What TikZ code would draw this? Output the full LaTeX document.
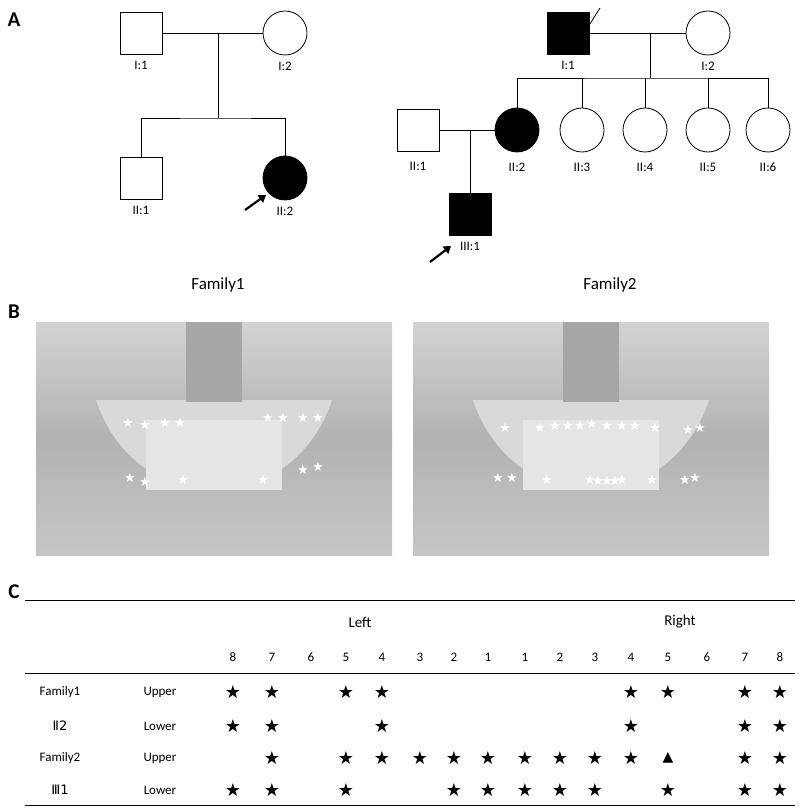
\documentclass[tikz,border=0pt]{standalone}
\usepackage{fontspec}
\setmainfont{Carlito}
\newfontfamily\symfont{DejaVu Sans}
\usetikzlibrary{arrows.meta,positioning}
\tikzset{
    male/.style={draw, minimum size=42pt, inner sep=0pt, line width=0.8pt},
    female/.style={draw, circle, minimum size=44pt, inner sep=0pt, line width=0.8pt},
    aff/.style={fill=black},
    lbl/.style={font=\fontsize{13}{13}\selectfont},
    tag/.style={font=\fontsize{21}{21}\selectfont\bfseries},
    line/.style={line width=0.8pt},
    pointer/.style={-{Triangle[length=7pt,width=9pt]}, line width=2.2pt},
    wstar/.style={text=white, font=\symfont\fontsize{13}{13}\selectfont, inner sep=0pt},
    bstar/.style={font=\symfont\fontsize{18}{18}\selectfont, inner sep=0pt},
    cell/.style={font=\fontsize{13}{13}\selectfont, inner sep=0pt}
}
\begin{document}
\begin{tikzpicture}[x=1pt,y=-1pt]
    \useasboundingbox (0,0) rectangle (800,810);
    % A: pedigrees
    \node[tag] at (14,20) {A};
    \node[male] (f1a) at (141,33) {};
    \node[female] (f1b) at (285,33) {};
    \node[male] (f1c) at (141,178) {};
    \node[female,aff] (f1d) at (285,178) {};
    \coordinate (f1m) at (218,33);
    \coordinate (f1s) at (218,118);
    \draw[line] (f1a) -- (f1b);
    \draw[line] (f1m) -- (f1s);
    \draw[line] (f1c.north) |- (f1s) -| (f1d.north);
    \node[lbl, below=3pt of f1a] {I:1};
    \node[lbl, below=3pt of f1b] {I:2};
    \node[lbl, below=3pt of f1c] {II:1};
    \node[lbl, below=3pt of f1d] {II:2};
    \coordinate (p1) at (245,210);
    \draw[pointer] (p1) -- (266,195);
    \node[font=\fontsize{17}{17}\selectfont] at (218,285) {Family1};

    \node[male,aff] (f2a) at (568,33) {};
    \node[female] (f2b) at (708,33) {};
    \draw[line] (576,46) -- (600,8);
    \node[male] (f2c) at (418,130) {};
    \node[female,aff] (f2d) at (517,130) {};
    \node[female] (f2e) at (582,130) {};
    \node[female] (f2f) at (645,130) {};
    \node[female] (f2g) at (708,130) {};
    \node[female] (f2h) at (768,130) {};
    \node[male,aff] (f2i) at (470,214) {};
    \coordinate (f2m) at (650,33);
    \coordinate (f2s) at (650,78);
    \coordinate (f2n) at (470,130);
    \draw[line] (f2a) -- (f2b);
    \draw[line] (f2m) -- (f2s);
    \draw[line] (f2d.north) |- (f2s) -| (f2h.north);
    \foreach \k in {e,f,g} \draw[line] (f2\k.north) -- ++(0,-30);
    \draw[line] (f2c) -- (f2d);
    \draw[line] (f2n) -- (f2i.north);
    \node[lbl, below=3pt of f2a] {I:1};
    \node[lbl, below=3pt of f2b] {I:2};
    \node[lbl, below=7pt of f2c] {II:1};
    \node[lbl, below=7pt of f2d] {II:2};
    \node[lbl, below=7pt of f2e] {II:3};
    \node[lbl, below=7pt of f2f] {II:4};
    \node[lbl, below=7pt of f2g] {II:5};
    \node[lbl, below=7pt of f2h] {II:6};
    \node[lbl, below=3pt of f2i] {III:1};
    \coordinate (p2) at (430,262);
    \draw[pointer] (p2) -- (451,246);
    \node[font=\fontsize{17}{17}\selectfont] at (610,285) {Family2};

    % B: radiographs
    \node[tag] at (14,312) {B};
    \foreach \x in {36,413} {
        \shade[top color=gray!35, bottom color=gray!45, middle color=gray!60] (\x,322) rectangle ++(356,233);
        \fill[gray!30] (\x+60,400) .. controls (\x+100,520) and (\x+256,520) .. (\x+296,400) -- cycle;
        \fill[gray!70] (\x+150,322) rectangle ++(56,80);
        \fill[gray!20] (\x+110,420) rectangle ++(136,70);
    }
    \foreach \p in {(128,423),(145,425),(165,423),(180,423),(268,418),(283,418),(303,418),(318,418),
        (130,478),(145,482),(183,480),(263,480),(303,470),(318,467),
        (505,428),(540,428),(555,426),(568,426),(580,426),(592,424),(607,426),(622,426),(635,426),(655,428),(688,430),(700,428),
        (498,478),(512,478),(547,480),(590,480),(598,481),(607,481),(615,481),(622,480),(652,480),(685,480),(695,478)}
        \node[wstar] at \p {★};

    % C: table
    \node[tag] at (14,592) {C};
    \draw[line] (25,600) -- (795,600);
    \draw[line] (25,673) -- (795,673);
    \draw[line] (25,805) -- (795,805);
    \node[font=\fontsize{15}{15}\selectfont] at (360,622) {Left};
    \node[font=\fontsize{15}{15}\selectfont] at (680,622) {Right};
    \foreach \n [count=\i] in {8,7,6,5,4,3,2,1,1,2,3,4,5,6,7,8} {
        \pgfmathsetmacro\cx{{233,272,311,346,382,420,454,488,525,560,595,631,668,707,745,780}[\i-1]}
        \node[cell] (h\i) at (\cx,657) {\n};
    }
    \node[cell] at (60,692) {Family1};
    \node[cell,font=\symfont\fontsize{13}{13}\selectfont] at (60,726) {Ⅱ2};
    \node[cell] at (60,758) {Family2};
    \node[cell,font=\symfont\fontsize{13}{13}\selectfont] at (60,790) {Ⅲ1};
    \node[cell] at (160,692) {Upper};
    \node[cell] at (160,726) {Lower};
    \node[cell] at (160,758) {Upper};
    \node[cell] at (160,790) {Lower};
    \foreach \c in {1,2,4,5,12,13,15,16} \node[bstar] at (h\c |- 0,692) {★};
    \foreach \c in {1,2,5,12,15,16} \node[bstar] at (h\c |- 0,726) {★};
    \foreach \c in {2,4,5,6,7,8,9,10,11,12,15,16} \node[bstar] at (h\c |- 0,758) {★};
    \node[font=\symfont\fontsize{14}{14}\selectfont, inner sep=0pt] at (h13 |- 0,758) {▲};
    \foreach \c in {1,2,4,7,8,9,10,11,13,15,16} \node[bstar] at (h\c |- 0,790) {★};
\end{tikzpicture}
\end{document}
